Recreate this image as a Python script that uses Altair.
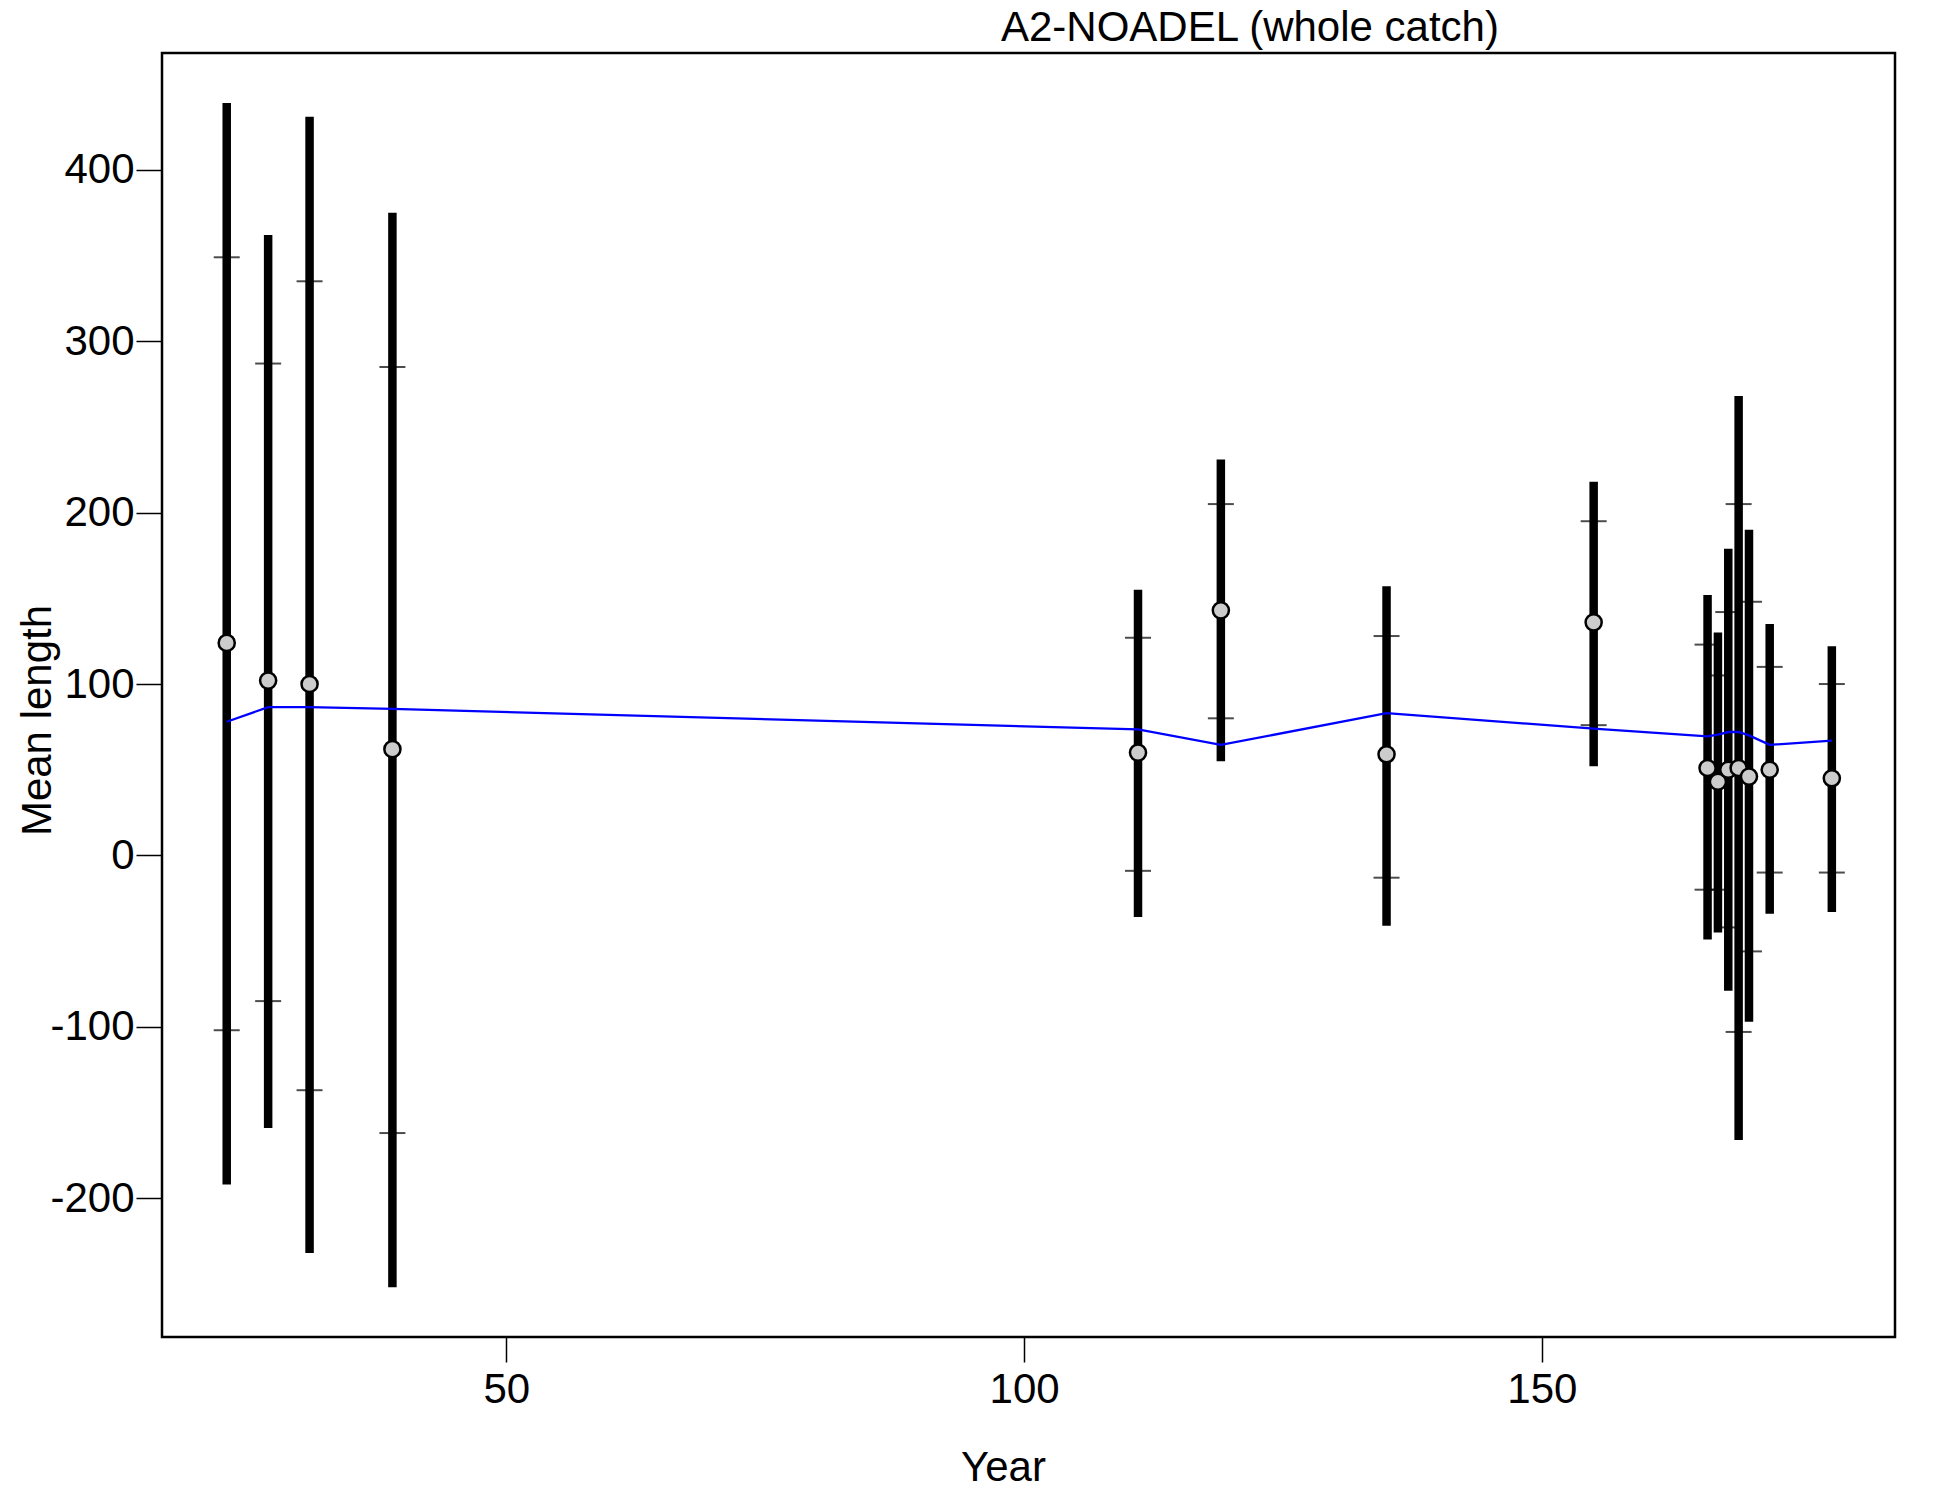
import altair as alt
import pandas as pd

years = [23, 27, 31, 39, 111, 119, 135, 155, 166, 167, 168, 169, 170, 172, 178]
obs = [124, 102, 100, 62, 60, 143, 59, 136, 51, 43, 50, 51, 46, 50, 45]
upper_outer = [439, 362, 431, 375, 155, 231, 157, 218, 152, 130, 179, 268, 190, 135, 122]
lower_outer = [-192, -159, -232, -252, -36, 55, -41, 52, -49, -45, -79, -166, -97, -34, -33]
upper_inner = [349, 287, 335, 285, 127, 205, 128, 195, 123, 105, 142, 205, 148, 110, 100]
lower_inner = [-102, -85, -137, -162, -9, 80, -13, 76, -20, -20, -42, -103, -56, -10, -10]
expected = [78, 86.5, 86.5, 85.5, 73.5, 64.5, 83, 74, 69.5, 70.5, 72, 72, 70, 64.5, 67]
title_text = ["A2-NOADEL (whole catch)"]

df = pd.DataFrame({
    "Year": years, "obs": obs, "hi": upper_outer, "lo": lower_outer,
    "ihi": upper_inner, "ilo": lower_inner, "exp": expected,
})
ticks_df = pd.DataFrame({
    "Year": years + years,
    "v": upper_inner + lower_inner,
})
title_df = pd.DataFrame({"t": title_text})

FONT = "Liberation Sans"
FS = 42
xs = alt.Scale(domain=[16.75, 184.1], nice=False, zero=False)
ys = alt.Scale(domain=[-281, 468.2], nice=False, zero=False)

xaxis = alt.Axis(values=[50, 100, 150], tickSize=25, tickWidth=1.5, tickColor="black",
                 labelFontSize=FS, labelFont=FONT, labelColor="black",
                 labelBaseline="alphabetic", labelPadding=40,
                 grid=False, domain=False, title="Year", titleFont=FONT,
                 titleFontSize=FS, titleFontWeight="normal", titleColor="black",
                 titleX=841, titleY=143, titleBaseline="alphabetic", titleAlign="center")
yaxis = alt.Axis(values=[-200, -100, 0, 100, 200, 300, 400], tickSize=26, tickWidth=1.5,
                 tickColor="black", labelFontSize=FS, labelFont=FONT, labelColor="black",
                 labelExpr="toString(datum.value)",
                 labelPadding=2, grid=False, domain=False, title="Mean length",
                 titleFont=FONT, titleFontSize=FS, titleFontWeight="normal",
                 titleColor="black", titleX=-112, titleY=667, titleAngle=270,
                 titleBaseline="alphabetic", titleAlign="center")

base = alt.Chart(df)

bars = base.mark_rule(color="black", strokeWidth=8.5).encode(
    x=alt.X("Year:Q", scale=xs, axis=xaxis),
    y=alt.Y("lo:Q", scale=ys, axis=yaxis),
    y2="hi:Q",
)

inner = alt.Chart(ticks_df).mark_tick(orient="horizontal", color="black", size=26,
                                      thickness=2).encode(
    x=alt.X("Year:Q", scale=xs),
    y=alt.Y("v:Q", scale=ys),
)

line = base.mark_line(color="#0000ff", strokeWidth=2.3).encode(
    x=alt.X("Year:Q", scale=xs),
    y=alt.Y("exp:Q", scale=ys),
)

pts = base.mark_point(filled=True, fill="#cccccc", stroke="black", strokeWidth=2.5,
                      size=260, opacity=1, shape="circle").encode(
    x=alt.X("Year:Q", scale=xs),
    y=alt.Y("obs:Q", scale=ys),
)

title = alt.Chart(title_df).mark_text(font=FONT, fontSize=FS, color="black",
                                      align="left", baseline="alphabetic").encode(
    text="t:N", x=alt.value(839), y=alt.value(-12.5),
)

chart = alt.layer(bars, inner, line, pts, title).properties(
    width=1733, height=1284,
    autosize=alt.AutoSizeParams(type="none"),
    padding={"left": 154, "top": 45, "right": 47, "bottom": 155},
).configure(background="white").configure_view(stroke="black", strokeWidth=2.5)

chart.save("out.html", embed_options={"renderer": "svg", "actions": False})
